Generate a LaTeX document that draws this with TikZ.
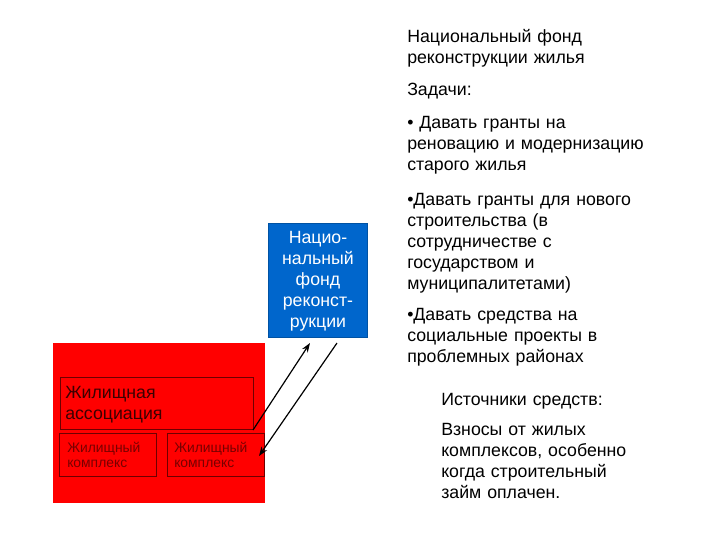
\documentclass[tikz,border=0pt]{standalone}
\usepackage{fontspec}
\setmainfont{Liberation Sans}
\usetikzlibrary{arrows.meta}
\definecolor{fundblue}{RGB}{0,102,204}
\definecolor{boxline}{RGB}{110,0,0}
\definecolor{assoctext}{RGB}{60,0,0}
\definecolor{smalltext}{RGB}{120,0,0}
\tikzset{
  para/.style={anchor=base west, inner sep=0pt, text width=280pt, align=left,
    font=\fontsize{13.3}{15.75}\selectfont, text=black},
  innerbox/.style={draw=boxline, line width=0.6pt},
  arr/.style={-{Stealth[length=7pt,width=5pt]}, line width=0.9pt, black}
}
\begin{document}
\begin{tikzpicture}[x=0.75pt,y=-0.75pt]
\useasboundingbox (0,0) rectangle (720,540);
% red association block
\fill[red] (53,343) rectangle (265,503);
\draw[innerbox] (60,377) rectangle (253,429);
\draw[innerbox] (59,433) rectangle (156,476);
\draw[innerbox] (167,433) rectangle (264,476);
\node[anchor=base west, inner sep=0pt, text width=140pt, align=left, text=assoctext,
  font=\fontsize{13.3}{15.75}\selectfont] (assoc) at (65,398) {Жилищная\\ассоциация};
\node[anchor=base west, inner sep=0pt, text width=70pt, align=left, text=smalltext,
  font=\fontsize{10.4}{11.25}\selectfont] (c1) at (67,452) {Жилищный\\комплекс};
\node[anchor=base west, inner sep=0pt, text width=70pt, align=left, text=smalltext,
  font=\fontsize{10.4}{11.25}\selectfont] (c2) at (174,452) {Жилищный\\комплекс};
% blue fund box
\node[fill=fundblue, draw=fundblue!80!black, minimum width=99*0.75pt, minimum height=114*0.75pt,
  inner sep=0pt, anchor=north west] (fund) at (268,223) {};
\node[anchor=base, inner sep=0pt, align=center, text=white, text width=90pt,
  font=\fontsize{13.3}{15.75}\selectfont] (fundtext) at (318,243)
  {Нацио-\\нальный\\фонд\\реконст-\\рукции};
% arrows
\coordinate (a1s) at (253,430);
\coordinate (a1e) at (310,343);
\coordinate (a2s) at (337,343);
\coordinate (a2e) at (259,456);
\draw[arr] (a1s) -- (a1e);
\draw[arr] (a2s) -- (a2e);
% right column text
\node[para] (title) at (407,42) {Национальный фонд\\реконструкции жилья};
\node[para] (tasks) at (407,95) {Задачи:};
\node[para] (t1) at (407,128) {• Давать гранты на\\реновацию и модернизацию\\старого жилья};
\node[para] (t2) at (407,205) {•Давать гранты для нового\\строительства (в\\сотрудничестве с\\государством и\\муниципалитетами)};
\node[para] (t3) at (407,320) {•Давать средства на\\социальные проекты в\\проблемных районах};
\node[para] (src) at (441,405) {Источники средств:};
\node[para] (src1) at (441,435) {Взносы от жилых\\комплексов, особенно\\когда строительный\\займ оплачен.};
\end{tikzpicture}
\end{document}
